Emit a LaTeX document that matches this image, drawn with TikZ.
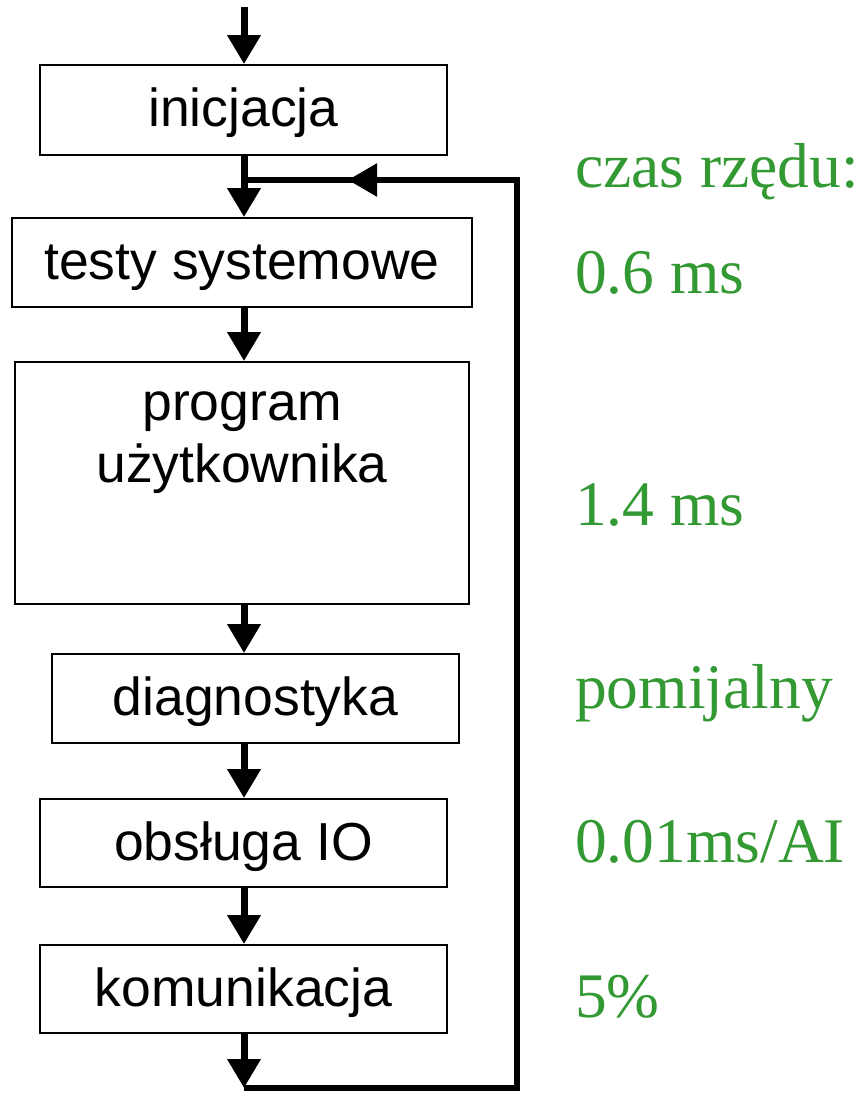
\documentclass[tikz,border=0pt]{standalone}
\usepackage{fontspec}
\setmainfont{Liberation Serif}
\newfontfamily\boxfont{Liberation Sans}
\usetikzlibrary{arrows.meta}
\definecolor{timegreen}{RGB}{51,153,51}
\tikzset{
  stage/.style={draw, line width=1.8pt, inner sep=0pt, text height=40pt, text depth=6pt,
    font=\boxfont\fontsize{53.5}{60}\selectfont},
  stagetext/.style={inner sep=0pt, anchor=base, font=\boxfont\fontsize{53.5}{60}\selectfont},
  flow/.style={line width=7pt, -{Triangle[length=29pt,width=32pt]}},
  loopline/.style={line width=5.5pt},
  timing/.style={anchor=base west, inner sep=0pt, text=timegreen, font=\fontsize{63.5}{70}\selectfont},
}
\begin{document}
\begin{tikzpicture}[x=1pt, y=-1pt]
  \useasboundingbox (0,0) rectangle (862,1094);

  % stages of the PLC scan cycle
  \node[stage, minimum width=407pt, minimum height=90pt] (inic) at (243.5,110) {inicjacja};
  \node[stage, minimum width=460pt, minimum height=89pt] (testy) at (242,262.5) {testy systemowe};
  \node[stage, minimum width=454pt, minimum height=242pt] (prog) at (242,483) {};
  \node[stagetext] (progA) at (242,420) {program};
  \node[stagetext] (progB) at (242,482) {użytkownika};
  \node[stage, minimum width=407pt, minimum height=89pt] (diag) at (255.5,698.5) {diagnostyka};
  \node[stage, minimum width=407pt, minimum height=88pt] (io) at (243.5,843) {obsługa IO};
  \node[stage, minimum width=407pt, minimum height=88pt] (kom) at (243.5,989) {komunikacja};

  % flow column and loop points
  \coordinate (col) at (244,0);
  \coordinate (entry) at (244,7);
  \coordinate (bottom) at (244,1088);
  \coordinate (bottomR) at (517,1088);
  \coordinate (topR) at (517,180);
  \coordinate (loopTip) at (348,180);
  \coordinate (join) at (244,180);

  % straight flow
  \draw[flow] (entry) -- (inic.north -| col);
  \draw[flow] (inic.south -| col) -- (testy.north -| col);
  \draw[flow] (testy.south -| col) -- (prog.north -| col);
  \draw[flow] (prog.south -| col) -- (diag.north -| col);
  \draw[flow] (diag.south -| col) -- (io.north -| col);
  \draw[flow] (io.south -| col) -- (kom.north -| col);
  \draw[flow] (kom.south -| col) -- (bottom);

  % return loop
  \draw[loopline] (bottom) -- (bottomR) -- (topR) -- (join);
  \draw[flow, line width=5.5pt] (topR) -- (loopTip);

  % typical durations
  \node[timing] (tHead) at (575,188) {czas rzędu:};
  \node[timing] (tTest) at (575,293) {0.6 ms};
  \node[timing] (tProg) at (575,525) {1.4 ms};
  \node[timing] (tDiag) at (575,708) {pomijalny};
  \node[timing] (tIO) at (575,862) {0.01ms/AI};
  \node[timing] (tKom) at (575,1017) {5\%};
\end{tikzpicture}
\end{document}
